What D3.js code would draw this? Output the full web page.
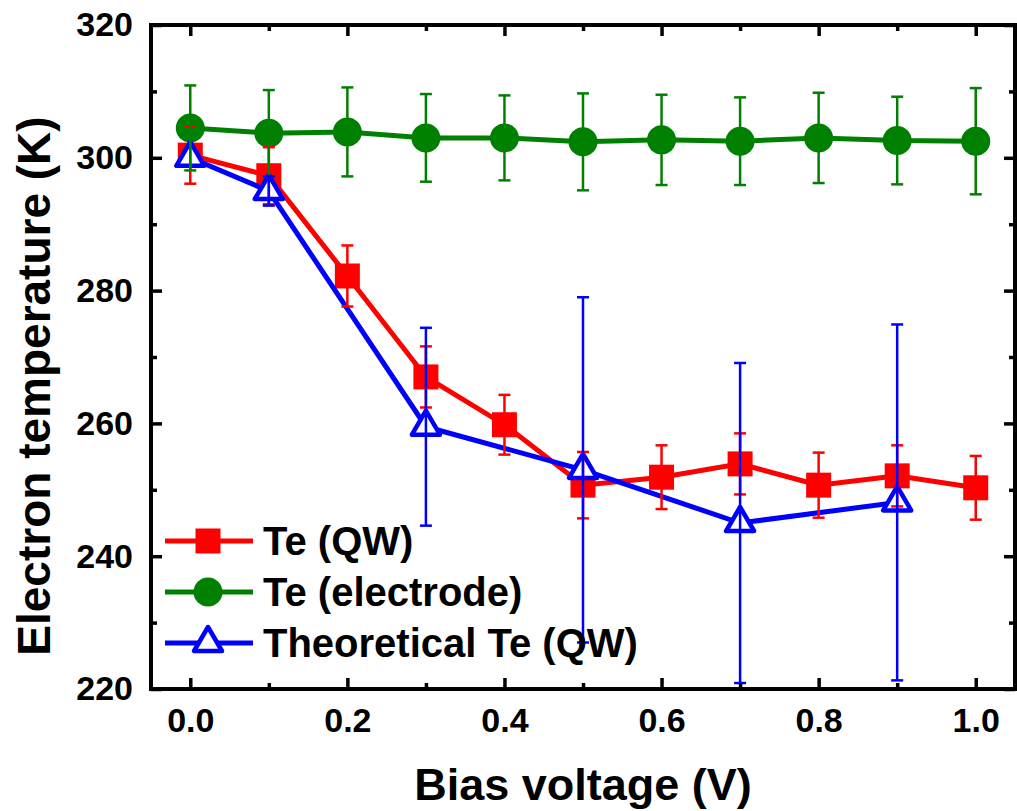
<!DOCTYPE html>
<html><head><meta charset="utf-8">
<script src="https://cdn.jsdelivr.net/npm/d3@7"></script>
<style>
body{margin:0;background:#fff}
svg{display:block}
text{font-family:"Liberation Sans",Arial,Helvetica,sans-serif;font-weight:bold;fill:#000}
</style>
</head><body>
<svg id="c" width="1017" height="811"></svg>
<script>
// ---- data ----
const biasVoltage = [0, 0.1, 0.2, 0.3, 0.4, 0.5, 0.6, 0.7, 0.8, 0.9, 1.0];
const teQW        = [300.4, 297.3, 282.2, 267.0, 259.8, 250.7, 251.9, 253.9, 250.7, 252.1, 250.3];
const teQWErr     = [4.3, 4.3, 4.6, 4.6, 4.5, 5.0, 4.8, 4.6, 4.9, 4.6, 4.8];
const teElectrode    = [304.5, 303.7, 303.9, 303.0, 303.0, 302.4, 302.7, 302.5, 303.0, 302.6, 302.5];
const teElectrodeErr = [6.4, 6.5, 6.7, 6.6, 6.4, 7.3, 6.8, 6.6, 6.8, 6.6, 8.0];
const biasTheory   = [0, 0.1, 0.3, 0.5, 0.7, 0.9];
const teTheory     = [300.0, 295.0, 259.5, 253.0, 245.0, 248.1];
const teTheoryErr  = [0, 2.2, 14.9, 26.0, 24.1, 26.8];
const xMajorTicks = [0, 0.2, 0.4, 0.6, 0.8, 1.0];
const xMinorTicks = [0.1, 0.3, 0.5, 0.7, 0.9];
const yMajorTicks = [220, 240, 260, 280, 300, 320];
const yMinorTicks = [230, 250, 270, 290, 310];
const legendLabels = ["Te (QW)", "Te (electrode)", "Theoretical Te (QW)"];

// ---- layout ----
const L = 151, R = 1015, T = 25, B = 689;
const x = d3.scaleLinear().domain([-0.05, 1.05]).range([L, R]);
const y = d3.scaleLinear().domain([220, 320]).range([B, T]);
const svg = d3.select("#c");

const series = [
  {name: legendLabels[0], xs: biasVoltage, ys: teQW, err: teQWErr, color: "#ff0000", shape: "square"},
  {name: legendLabels[1], xs: biasVoltage, ys: teElectrode, err: teElectrodeErr, color: "#008000", shape: "circle"},
  {name: legendLabels[2], xs: biasTheory, ys: teTheory, err: teTheoryErr, color: "#0000ff", shape: "triangle"}
];

function drawMarker(g, shape, cx, cy, color) {
  if (shape === "square") {
    g.append("rect").attr("x", cx - 12.5).attr("y", cy - 12.5).attr("width", 25).attr("height", 25).attr("fill", color);
  } else if (shape === "circle") {
    g.append("circle").attr("cx", cx).attr("cy", cy).attr("r", 14.5).attr("fill", color);
  } else {
    const h = 24, w = 28;
    const pts = [[cx, cy - h * 2 / 3], [cx - w / 2, cy + h / 3], [cx + w / 2, cy + h / 3]];
    g.append("polygon").attr("points", pts.map(p => p.join(",")).join(" "))
      .attr("fill", "#fff").attr("stroke", color).attr("stroke-width", 4.5).attr("stroke-linejoin", "round");
  }
}

const plot = svg.append("g");
const line = d3.line().x(d => x(d[0])).y(d => y(d[1]));
series.forEach(s => {
  const pts = s.xs.map((v, i) => [v, s.ys[i]]);
  plot.append("path").attr("d", line(pts)).attr("fill", "none").attr("stroke", s.color).attr("stroke-width", 5);
  pts.forEach(p => drawMarker(plot, s.shape, x(p[0]), y(p[1]), s.color));
});
// error bars on top
series.forEach(s => {
  s.xs.forEach((v, i) => {
    const e = s.err[i];
    if (!e) return;
    const cx = x(v), y1 = y(s.ys[i] + e), y2 = y(s.ys[i] - e);
    const g = plot.append("g").attr("stroke", s.color).attr("stroke-width", 2.5);
    g.append("line").attr("x1", cx).attr("x2", cx).attr("y1", y1).attr("y2", y2);
    g.append("line").attr("x1", cx - 6).attr("x2", cx + 6).attr("y1", y1).attr("y2", y1);
    g.append("line").attr("x1", cx - 6).attr("x2", cx + 6).attr("y1", y2).attr("y2", y2);
  });
});

// ---- axes (inward ticks on all four sides) ----
const axG = svg.append("g");
const bottomAxis = d3.axisBottom(x).tickValues(xMajorTicks).tickSizeInner(-11).tickSizeOuter(0).tickPadding(19).tickFormat(d3.format(".1f"));
const gb = axG.append("g").attr("transform", `translate(0,${B})`).call(bottomAxis);
const bottomMinor = d3.axisBottom(x).tickValues(xMinorTicks).tickSizeInner(-6).tickSizeOuter(0).tickFormat("");
axG.append("g").attr("transform", `translate(0,${B})`).call(bottomMinor);
axG.append("g").attr("transform", `translate(0,${T})`).call(d3.axisTop(x).tickValues(xMajorTicks).tickSizeInner(-11).tickSizeOuter(0).tickFormat(""));
axG.append("g").attr("transform", `translate(0,${T})`).call(d3.axisTop(x).tickValues(xMinorTicks).tickSizeInner(-6).tickSizeOuter(0).tickFormat(""));
const leftAxis = d3.axisLeft(y).tickValues(yMajorTicks).tickSizeInner(-11).tickSizeOuter(0).tickPadding(18).tickFormat(d3.format("d"));
const gl = axG.append("g").attr("transform", `translate(${L},0)`).call(leftAxis);
axG.append("g").attr("transform", `translate(${L},0)`).call(d3.axisLeft(y).tickValues(yMinorTicks).tickSizeInner(-6).tickSizeOuter(0).tickFormat(""));
axG.append("g").attr("transform", `translate(${R},0)`).call(d3.axisRight(y).tickValues(yMajorTicks).tickSizeInner(-11).tickSizeOuter(0).tickFormat(""));
axG.append("g").attr("transform", `translate(${R},0)`).call(d3.axisRight(y).tickValues(yMinorTicks).tickSizeInner(-6).tickSizeOuter(0).tickFormat(""));
axG.selectAll(".domain").remove();
axG.selectAll(".tick line").attr("stroke", "#000").attr("stroke-width", 3.5);
axG.selectAll(".tick text").attr("font-size", 34).attr("font-family", null).attr("fill", "#000");
gb.selectAll(".tick text").attr("dy", "0.71em");
svg.append("rect").attr("x", L).attr("y", T).attr("width", R - L).attr("height", B - T)
  .attr("fill", "none").attr("stroke", "#000").attr("stroke-width", 4);

// ---- axis titles ----
svg.append("text").attr("x", (L + R) / 2).attr("y", 800).attr("text-anchor", "middle").attr("font-size", 45).text("Bias voltage (V)");
svg.append("text").attr("transform", "translate(50,386) rotate(-90)").attr("text-anchor", "middle").attr("font-size", 46).text("Electron temperature (K)");

// ---- legend ----
const lg = svg.append("g");
const rowY = [541, 592, 643];
series.forEach((s, i) => {
  const cy = rowY[i];
  lg.append("line").attr("x1", 165).attr("x2", 253).attr("y1", cy).attr("y2", cy).attr("stroke", s.color).attr("stroke-width", 5);
  drawMarker(lg, s.shape, 208, cy, s.color);
  lg.append("text").attr("x", 263).attr("y", cy + 14).attr("font-size", 40).text(s.name);
});
</script>
</body></html>
